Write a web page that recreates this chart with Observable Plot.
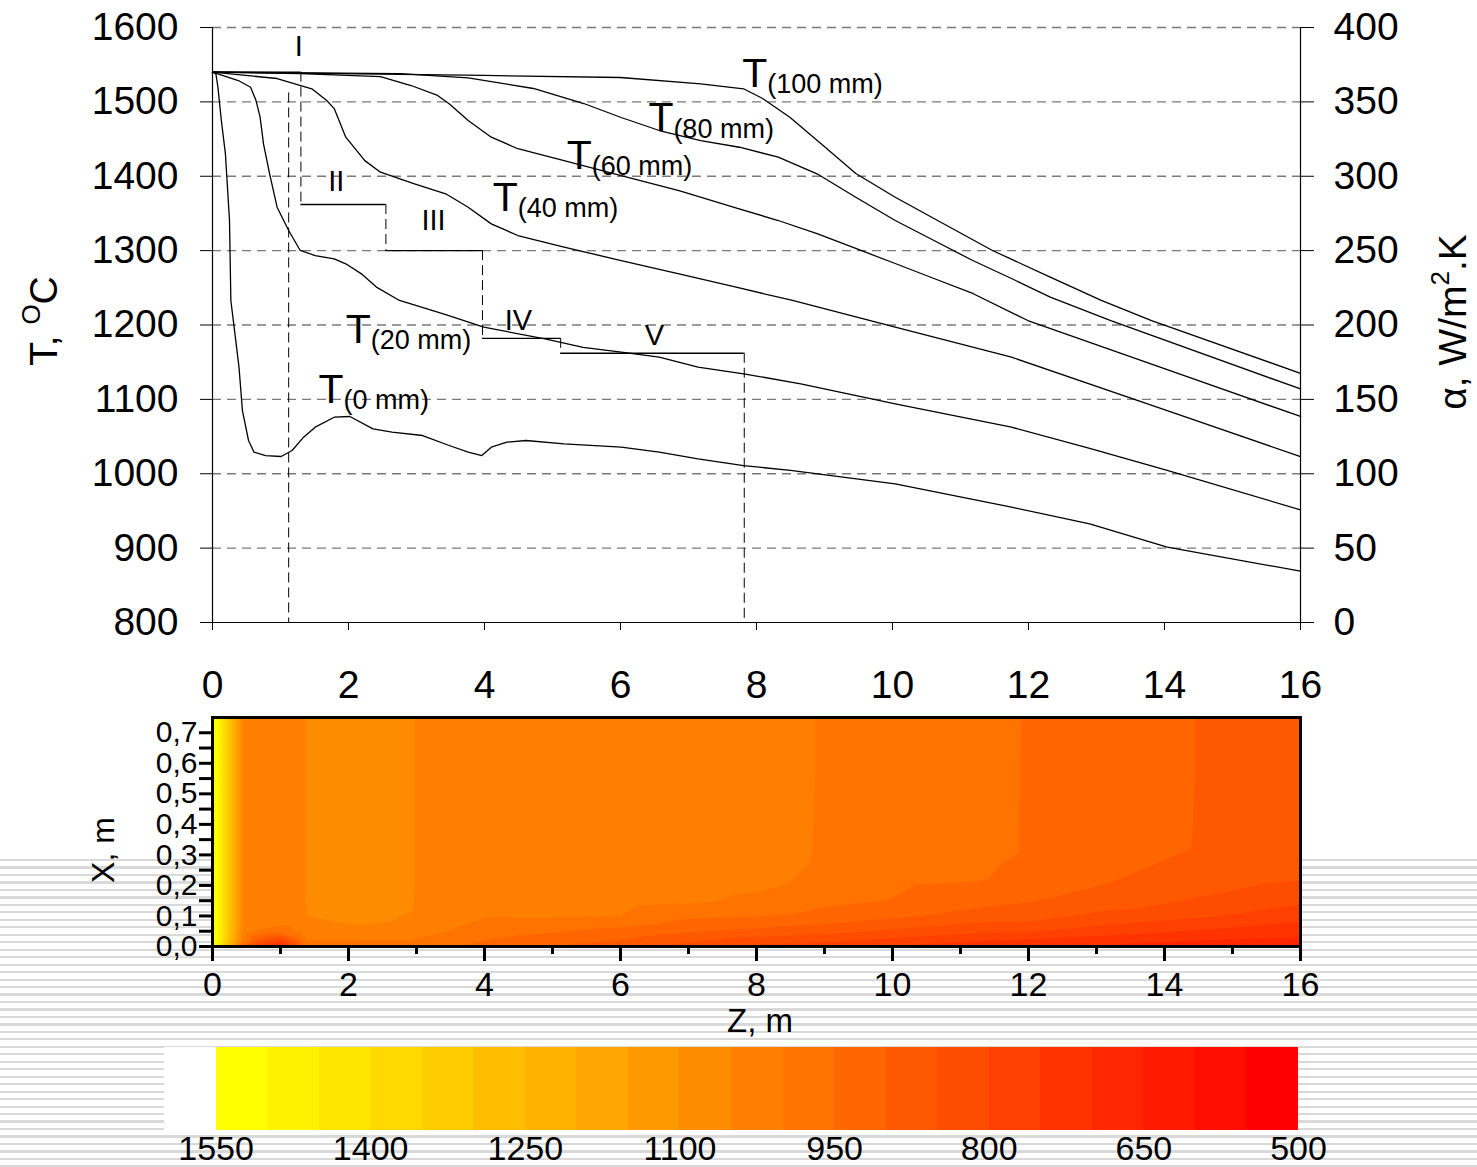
<!DOCTYPE html>
<html><head><meta charset="utf-8">
<script src="https://cdn.jsdelivr.net/npm/d3@7"></script>
<script src="https://cdn.jsdelivr.net/npm/@observablehq/plot@0.6"></script>
<style>
html,body{margin:0;padding:0;background:#fff;}
#page{position:relative;width:1477px;height:1167px;overflow:hidden;font-family:"Liberation Sans",Arial,sans-serif;}
#stripes{position:absolute;left:0;top:859px;width:1477px;height:308px;
 background:repeating-linear-gradient(to bottom,#d9d9d9 0px,#d9d9d9 2.2px,#ffffff 2.2px,#ffffff 7.47px);}
.layer{position:absolute;left:0;}
</style></head>
<body><div id="page"><div id="stripes"></div></div>
<script>
// ---------- top chart data ----------
const zTicks = [0, 2, 4, 6, 8, 10, 12, 14, 16];
const tTicks = [800, 900, 1000, 1100, 1200, 1300, 1400, 1500, 1600];
const gridT = [900, 1000, 1100, 1200, 1300, 1400, 1500, 1600];

const z0mm = [0,0.05,0.08,0.13,0.19,0.25,0.27,0.33,0.39,0.44,0.53,0.61,0.78,1.01,1.17,1.34,1.51,1.79,2.02,2.36,2.64,3.09,3.48,3.76,3.96,4.10,4.33,4.61,5.17,6.01,6.57,7.14,7.81,8.5,10.04,11.75,12.90,14.04,16];
const t0mm = [1540,1537.7,1519.7,1475,1430,1340.5,1233,1188,1143,1085,1044.7,1029,1024.5,1023.2,1031.3,1049.2,1062.6,1076,1077,1060.4,1055.9,1051.4,1038,1029,1024.5,1035.7,1042.4,1044.7,1040.2,1035.7,1029,1020,1011,1004.4,986.5,955,932.7,901.3,869];
const z20mm = [0,0.38,0.56,0.64,0.70,0.75,0.84,0.95,1.12,1.29,1.51,1.79,1.96,2.19,2.41,2.75,3.43,3.99,4.89,5.45,6.01,6.57,7.14,7.81,8.65,10.04,11.75,12.90,14.04,16];
const t20mm = [1540,1528.7,1519.7,1501.8,1479.4,1443.6,1403.3,1358.4,1327,1300.2,1293.4,1289,1282.3,1268.8,1251,1233,1214,1197,1181.4,1170,1163.4,1156.7,1143.3,1134.4,1120.9,1094,1062.6,1034,1004.4,951.5];
const z40mm = [0,0.95,1.46,1.68,1.79,1.96,2.24,2.47,2.97,3.43,3.76,4.10,4.49,5.17,6.01,6.86,7.70,8.53,10.04,11.75,14.04,16];
const t40mm = [1540,1531.4,1517.6,1501.8,1491,1452.5,1421,1405.4,1389.8,1376.4,1358.4,1336,1320.3,1304.6,1286.7,1268.8,1250.8,1233,1197,1156.7,1085,1023];
const z60mm = [0,1.29,2.47,2.92,3.31,3.48,3.76,4.10,4.49,5.17,6.01,6.86,7.72,8.32,8.89,9.46,10.04,10.61,11.18,11.99,14.04,16];
const t60mm = [1540,1538,1534,1522,1508.6,1497.4,1475,1452.5,1437,1421,1401,1380.8,1356.7,1340.5,1323,1302.9,1282.7,1262.5,1242.4,1206,1140,1077];
const z80mm = [0,2.76,3.76,4.72,5.46,6.01,6.57,7.18,7.75,8.32,8.89,9.46,10.04,10.61,11.18,11.75,12.32,13.21,16];
const t80mm = [1540,1538,1532.4,1518,1497.8,1479,1461.5,1448,1439,1425.6,1403.3,1371.8,1340.5,1313.6,1286.7,1262.5,1237.4,1206,1114];
const z100mm = [0,4,6,7.18,7.81,8.09,8.49,9.01,9.46,10.04,10.61,11.47,12.32,13.07,13.81,16];
const t100mm = [1540,1535.5,1532.8,1524.3,1517.6,1504.5,1479.4,1439,1403.7,1371.8,1343.2,1300.2,1264.3,1233,1206,1135];

const curveNames = ["(0 mm)","(20 mm)","(40 mm)","(60 mm)","(80 mm)","(100 mm)"];
const curveZ = [z0mm, z20mm, z40mm, z60mm, z80mm, z100mm];
const curveT = [t0mm, t20mm, t40mm, t60mm, t80mm, t100mm];
const labelZ = [1.56, 1.96, 4.12, 5.21, 6.41, 7.79];
const labelT = [1113, 1194, 1371, 1428, 1478, 1538];

// heat transfer coefficient zones (right axis, W/m2.K)
const zoneNames = ["I","II","III","IV","V"];
const zoneStart = [0, 1.30, 2.55, 3.97, 5.12];
const zoneEnd   = [1.30, 2.55, 3.97, 5.12, 7.82];
const zoneAlpha = [370, 281, 250, 191, 181];
const zoneLabelZ = [1.27, 1.82, 3.25, 4.5, 6.5];
const zoneLabelAlpha = [387, 296, 270, 203, 193];
const boundZ      = [1.12, 1.30, 2.55, 3.97, 5.12, 7.82];
const boundTop    = [356, 370, 281, 250, 191, 181];
const boundBottom = [0, 281, 250, 191, 181, 0];

// right axis mapping alpha -> T-scale (0..400 <-> 800..1600)
const a2t = a => 800 + 2 * a;

// ---------- temperature field data (rows: Z positions, columns: X depths) ----------
const heatX = [0, 0.02, 0.05, 0.1, 0.15, 0.22, 0.32, 0.75];
const heatZ = [0, 0.08, 0.45, 0.7, 1.0, 1.3, 1.34, 1.4, 2.0, 2.5, 2.93, 2.99, 4.0, 5.0, 6.0, 7.0, 8.0, 8.8, 8.95, 10.0, 11.3, 11.85, 11.95, 13.0, 14.4, 14.52, 15.2, 16.0];
const heatT = [
  [1545,1548,1548,1548,1548,1548,1548,1548],
  [1470,1500,1502,1502,1502,1502,1502,1502],
  [950,1010,1040,1045,1045,1045,1045,1045],
  [740,870,995,1030,1030,1030,1030,1030],
  [670,790,980,1030,1030,1030,1030,1030],
  [860,940,1008,1030,1035,1035,1035,1035],
  [950,985,1015,1030,1035,1035,1035,1035],
  [975,998,1025,1050,1075,1075,1075,1075],
  [980,998,1040,1062,1075,1075,1075,1075],
  [980,1000,1040,1058,1075,1075,1075,1075],
  [978,1000,1035,1045,1065,1075,1075,1075],
  [975,996,1020,1030,1035,1035,1035,1035],
  [935,950,975,1003,1025,1025,1025,1025],
  [900,922,955,1005,1020,1025,1025,1025],
  [875,898,933,1000,1015,1025,1025,1025],
  [830,862,905,960,1008,1022,1025,1025],
  [790,825,888,953,990,1015,1022,1025],
  [785,812,870,938,975,993,1005,1020],
  [785,812,870,938,960,970,973,975],
  [745,785,842,910,948,962,970,975],
  [710,755,810,880,915,953,963,970],
  [700,746,806,878,905,938,952,970],
  [698,745,805,876,903,915,922,925],
  [695,725,780,837,885,908,918,925],
  [680,700,747,808,847,872,900,920],
  [680,700,746,807,846,866,873,875],
  [672,694,733,790,830,862,868,872],
  [665,688,718,771,810,851,862,868]
];
const heatZMajor = [0, 2, 4, 6, 8, 10, 12, 14, 16];
const heatZMinor = [1, 3, 5, 7, 9, 11, 13, 15];
const heatXMajor = [0, 0.1, 0.2, 0.3, 0.4, 0.5, 0.6, 0.7];
const heatXMinor = [0.05, 0.15, 0.25, 0.35, 0.45, 0.55, 0.65];

// colour bands (°C)
const bandLow = [500,550,600,650,700,750,800,850,900,950,1000,1050,1100,1150,1200,1250,1300,1350,1400,1450,1500,1550];
const legendTicks = [1550, 1400, 1250, 1100, 950, 800, 650, 500];

// ---------- build ----------
const FONT = "Liberation Sans, Arial, sans-serif";
const colorThresholds = bandLow.slice(1);
const colorRange = bandLow.slice(0, 21).map((_, i) => d3.rgb(255, Math.round(255 * i / 20), 0).formatHex()).concat(["#ffffff"]);
const colorOpts = {type: "threshold", domain: colorThresholds, range: colorRange};

const rows = curveNames.flatMap((n, i) => curveZ[i].map((z, j) => ({name: n, z, t: curveT[i][j]})));
const labels = curveNames.map((n, i) => ({name: n, z: labelZ[i], t: labelT[i]}));
const zones = zoneNames.map((n, i) => ({n, s: zoneStart[i], e: zoneEnd[i], a: zoneAlpha[i], lz: zoneLabelZ[i], la: zoneLabelAlpha[i]}));
const bounds = boundZ.map((z, i) => ({z, a1: boundTop[i], a2: boundBottom[i]}));

const page = document.getElementById("page");
function place(svg, top) {
  const d = document.createElement("div");
  d.className = "layer"; d.style.top = top + "px";
  d.appendChild(svg); page.appendChild(d);
}

const topPlot = Plot.plot({
  width: 1477, height: 700,
  marginLeft: 212, marginRight: 177, marginTop: 27, marginBottom: 78,
  style: {background: "transparent", fontFamily: FONT, fontSize: "39px", color: "#000", overflow: "visible"},
  x: {domain: [0, 16]},
  y: {domain: [800, 1600]},
  marks: [
    Plot.ruleY(gridT, {stroke: "#7a7a7a", strokeWidth: 1.4, strokeDasharray: "9,6"}),
    Plot.ruleX(bounds, {x: "z", y1: d => a2t(d.a1), y2: d => a2t(d.a2), stroke: "#000", strokeWidth: 1, strokeDasharray: "10,5"}),
    Plot.ruleY(zones, {x1: "s", x2: "e", y: d => a2t(d.a), stroke: "#000", strokeWidth: 1.4}),
    Plot.line(rows, {x: "z", y: "t", z: "name", stroke: "#000", strokeWidth: 1.3}),
    Plot.ruleX([0], {stroke: "#000", strokeWidth: 1.2}),
    Plot.ruleX([16], {stroke: "#000", strokeWidth: 1.2}),
    Plot.ruleY([800], {stroke: "#000", strokeWidth: 1.2}),
    Plot.axisX({ticks: zTicks, tickSize: 8, tickPadding: 40, label: null, fontSize: 39, tickFormat: d => String(d)}),
    Plot.axisY({ticks: tTicks, tickSize: 12, tickPadding: 22, label: null, fontSize: 39, tickFormat: d => String(d)}),
    Plot.axisY({anchor: "right", ticks: tTicks, tickSize: 13, tickPadding: 20, label: null, fontSize: 39, tickFormat: d => String((d - 800) / 2)}),
    Plot.text(labels, {x: "z", y: "t", text: () => "T", fontSize: 41, textAnchor: "start", lineAnchor: "middle", fill: "#000"}),
    Plot.text(labels, {x: "z", y: "t", text: "name", dx: 25, dy: 11, fontSize: 27, textAnchor: "start", lineAnchor: "middle", fill: "#000"}),
    Plot.text(zones, {x: "lz", y: d => a2t(d.la), text: "n", fontSize: 29, lineAnchor: "middle", fill: "#000"})
  ]
});
{
  const s = d3.select(topPlot);
  const l = s.append("text").attr("transform", "translate(57,321) rotate(-90)").attr("text-anchor", "middle")
    .attr("font-size", 39).attr("font-family", FONT).attr("fill", "#000");
  l.append("tspan").text("T, ");
  l.append("tspan").attr("font-size", 26).attr("dy", -17).text("O");
  l.append("tspan").attr("dy", 17).text("C");
  const r = s.append("text").attr("transform", "translate(1466,322) rotate(-90)").attr("text-anchor", "middle")
    .attr("font-size", 39).attr("font-family", FONT).attr("fill", "#000");
  r.append("tspan").text("\u03b1, W/m");
  r.append("tspan").attr("font-size", 26).attr("dy", -17).text("2");
  r.append("tspan").attr("dy", 17).text(".K");
}
place(topPlot, 0);

const heatCells = heatZ.flatMap((z, i) => heatX.map((x, j) => ({z, x, t: heatT[i][j]})));
const heatPlot = Plot.plot({
  width: 1477, height: 345,
  marginLeft: 212, marginRight: 177, marginTop: 17, marginBottom: 99,
  style: {background: "transparent", fontFamily: FONT, fontSize: "30px", color: "#000", overflow: "visible"},
  x: {domain: [0, 16]},
  y: {domain: [0, 0.75]},
  color: colorOpts,
  marks: [
    Plot.contour(heatCells, {x: "z", y: "x", fill: "t", interpolate: "barycentric", thresholds: bandLow, pixelSize: 1, stroke: "none"}),
    Plot.frame({stroke: "#000", strokeWidth: 3}),
    Plot.axisX({ticks: heatZMajor, tickSize: 15, tickPadding: 10, strokeWidth: 3, label: null, fontSize: 34}),
    Plot.axisX({ticks: heatZMinor, tickSize: 8, strokeWidth: 3, label: null, tickFormat: () => ""}),
    Plot.axisY({ticks: heatXMajor, tickSize: 13, tickPadding: 2, strokeWidth: 3, label: null, fontSize: 30, tickFormat: d => d.toFixed(1).replace(".", ",")}),
    Plot.axisY({ticks: heatXMinor, tickSize: 13, strokeWidth: 3, label: null, tickFormat: () => ""})
  ]
});
{
  const s = d3.select(heatPlot);
  s.append("text").attr("transform", "translate(114,150) rotate(-90)").attr("text-anchor", "middle")
    .attr("font-size", 32).attr("font-family", FONT).attr("fill", "#000").text("X, m");
  s.append("text").attr("x", 760).attr("y", 332).attr("text-anchor", "middle")
    .attr("font-size", 33).attr("font-family", FONT).attr("fill", "#000").text("Z, m");
}
place(heatPlot, 700);

const barPlot = Plot.plot({
  width: 1477, height: 122,
  marginLeft: 0, marginRight: 0, marginTop: 2, marginBottom: 37,
  style: {background: "transparent", fontFamily: FONT, fontSize: "34px", color: "#000", overflow: "visible"},
  x: {domain: [1600, 500], range: [164, 1298]},
  y: {domain: [0, 1], axis: null},
  color: colorOpts,
  marks: [
    Plot.rect(bandLow, {x1: d => d, x2: d => d + 50, y1: 0, y2: 1, fill: d => d, shapeRendering: "crispEdges"}),
    Plot.axisX({ticks: legendTicks, tickSize: 0, tickPadding: 5, label: null, fontSize: 34, letterSpacing: -1, tickFormat: d => String(d)})
  ]
});
place(barPlot, 1045);
</script>
</body></html>
